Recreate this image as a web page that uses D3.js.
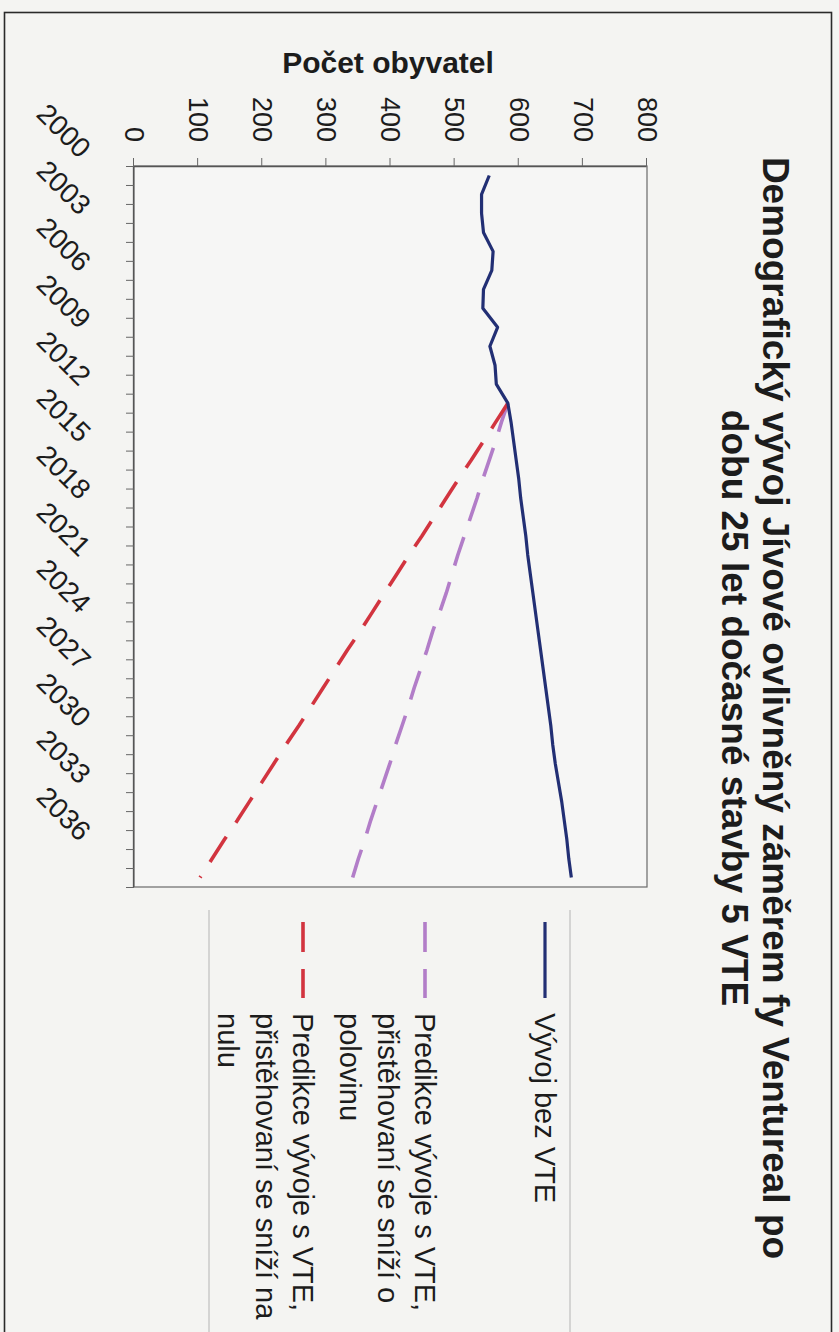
<!DOCTYPE html>
<html>
<head>
<meta charset="utf-8">
<script src="https://cdn.jsdelivr.net/npm/d3@7"></script>
<style>
  html, body { margin: 0; padding: 0; background: #f4f4f2; }
  svg { display: block; }
  text { font-family: "Liberation Sans", Arial, sans-serif; fill: #1c1c1c; }
</style>
</head>
<body>
<script>
// Years on the category axis
const years = [2000, 2001, 2002, 2003, 2004, 2005, 2006, 2007, 2008, 2009,
               2010, 2011, 2012, 2013, 2014, 2015, 2016, 2017, 2018, 2019,
               2020, 2021, 2022, 2023, 2024, 2025, 2026, 2027, 2028, 2029,
               2030, 2031, 2032, 2033, 2034, 2035, 2036, 2037];

// Labelled years (every third category)
const yearLabels = [2000, 2003, 2006, 2009, 2012, 2015, 2018, 2021, 2024, 2027, 2030, 2033, 2036];

// Value axis ticks
const valueTicks = [0, 100, 200, 300, 400, 500, 600, 700, 800];

// Population without the wind farm
const withoutVTE = [554, 542, 542, 545, 560, 558, 545, 544, 567, 555, 563, 565, 583,
                    588, 592, 596, 600, 603, 607, 611, 614, 618, 622, 626, 630,
                    634, 638, 642, 646, 650, 653, 657, 662, 667, 671, 675, 678, 682];

// Prediction: immigration halved (starts in 2012)
const halfMigration = [null, null, null, null, null, null, null, null, null, null, null, null,
                       583, 573, 564, 554, 544, 535, 525, 515, 505, 496, 487, 477, 466,
                       457, 447, 437, 428, 418, 408, 399, 389, 379, 369, 360, 350, 341];

// Prediction: immigration drops to zero (starts in 2012)
const zeroMigration = [null, null, null, null, null, null, null, null, null, null, null, null,
                       583, 564, 545, 526, 506, 487, 468, 449, 429, 410, 391, 372, 353,
                       333, 314, 295, 276, 257, 237, 218, 199, 180, 161, 141, 122, 103];

const seriesNames = [
  ["Vývoj bez VTE"],
  ["Predikce vývoje s VTE,", "přistěhovaní se sníží o", "polovinu"],
  ["Predikce vývoje s VTE,", "přistěhovaní se sníží na", "nulu"]
];
const seriesColors = ["#222f74", "#b27dc8", "#d2343f"];
const seriesDash = [null, "30,17", "30,17"];
const seriesData = [withoutVTE, halfMigration, zeroMigration];

const titleLines = ["Demografický vývoj Jívové ovlivněný záměrem  fy Ventureal po",
                    "dobu 25 let dočasné stavby 5 VTE"];
const axisTitle = "Počet obyvatel";

const W = 839, H = 1332;

const svg = d3.select("body").append("svg")
  .attr("width", W).attr("height", H);

svg.append("rect").attr("width", W).attr("height", H).attr("fill", "#f4f4f2");

// page frame
svg.append("rect")
  .attr("x", 4.5).attr("y", 12.5)
  .attr("width", 827).attr("height", H)
  .attr("fill", "none").attr("stroke", "#2a2a2a").attr("stroke-width", 1.6);

// The chart is laid out sideways: a landscape frame turned a quarter turn clockwise.
const g = svg.append("g").attr("transform", `translate(${W},0) rotate(90)`);

const plot = { left: 166, right: 887, top: 192, bottom: 705 };

const x = d3.scalePoint().domain(years).range([plot.left, plot.right]).padding(0.5);
const xEdges = d3.scaleLinear().domain([0, years.length]).range([plot.left, plot.right]);
const y = d3.scaleLinear().domain([0, 800]).range([plot.bottom, plot.top]);

// plot area
g.append("rect")
  .attr("x", plot.left).attr("y", plot.top)
  .attr("width", plot.right - plot.left).attr("height", plot.bottom - plot.top)
  .attr("fill", "#f6f6f5").attr("stroke", "#6a6a6a").attr("stroke-width", 1.2);

// value axis
const yAxis = g.append("g")
  .attr("transform", `translate(${plot.left},0)`)
  .call(d3.axisLeft(y).tickValues(valueTicks).tickSize(8).tickPadding(16).tickSizeOuter(0));
yAxis.select(".domain").attr("stroke", "#555").attr("stroke-width", 1.3);
yAxis.selectAll(".tick line").attr("stroke", "#666");
yAxis.selectAll(".tick text")
  .attr("font-size", 27)
  .attr("font-family", "Liberation Sans, Arial, sans-serif")
  .attr("fill", "#1c1c1c");

// category axis: ticks between categories
const xAxis = g.append("g")
  .attr("transform", `translate(0,${plot.bottom})`)
  .call(d3.axisBottom(xEdges).tickValues(d3.range(0, years.length + 1)).tickSize(8)
        .tickFormat(() => "").tickSizeOuter(0));
xAxis.select(".domain").attr("stroke", "#555").attr("stroke-width", 1.3);
xAxis.selectAll(".tick line").attr("stroke", "#666");

// slanted year labels
g.append("g").selectAll("text")
  .data(yearLabels)
  .join("text")
  .attr("transform", d => `translate(${x(d) - 16},760) rotate(-45)`)
  .attr("text-anchor", "end")
  .attr("font-size", 28)
  .text(d => d);

// axis title
g.append("text")
  .attr("transform", `translate(62,451) rotate(-90)`)
  .attr("text-anchor", "middle")
  .attr("dominant-baseline", "central")
  .attr("font-size", 30)
  .attr("font-weight", "bold")
  .text(axisTitle);

// chart title
g.append("g").selectAll("text")
  .data(titleLines)
  .join("text")
  .attr("x", 708)
  .attr("y", (d, i) => 76 + i * 41)
  .attr("text-anchor", "middle")
  .attr("font-size", 37)
  .attr("font-weight", "bold")
  .text(d => d);

// series lines
const line = d3.line()
  .defined(d => d.v !== null)
  .x(d => x(d.year))
  .y(d => y(d.v));

// draw the two predictions first, then the baseline on top
[1, 2, 0].forEach(si => {
  const pts = years.map((yr, i) => ({ year: yr, v: seriesData[si][i] }));
  g.append("path")
    .datum(pts)
    .attr("d", line)
    .attr("fill", "none")
    .attr("stroke", seriesColors[si])
    .attr("stroke-width", si === 0 ? 3.2 : 3.6)
    .attr("stroke-linejoin", "round")
    .attr("stroke-dasharray", seriesDash[si]);
});

// legend
const legend = g.append("g");
[269, 630].forEach(yy => {
  legend.append("line")
    .attr("x1", 910).attr("x2", H + 10)
    .attr("y1", yy).attr("y2", yy)
    .attr("stroke", "#b4b4b4").attr("stroke-width", 1);
});
const legendY = [294, 414, 536];
const lineGap = 37.5;
seriesNames.forEach((lines, si) => {
  legend.append("line")
    .attr("x1", 922).attr("x2", 998)
    .attr("y1", legendY[si]).attr("y2", legendY[si])
    .attr("stroke", seriesColors[si])
    .attr("stroke-width", si === 0 ? 3.2 : 3.6)
    .attr("stroke-dasharray", seriesDash[si]);
  legend.append("g").selectAll("text")
    .data(lines)
    .join("text")
    .attr("x", 1013)
    .attr("y", (d, i) => legendY[si] + i * lineGap)
    .attr("dominant-baseline", "central")
    .attr("font-size", 29)
    .text(d => d);
});
</script>
</body>
</html>
